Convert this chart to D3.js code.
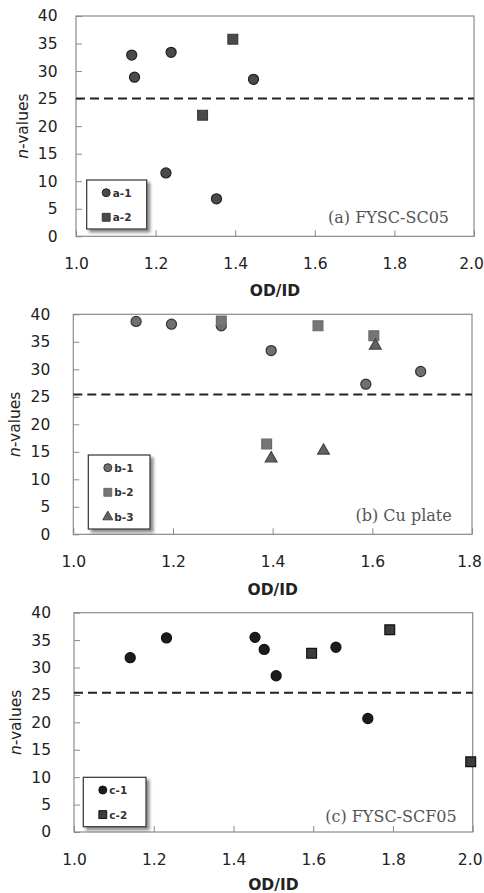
<!DOCTYPE html>
<html>
<head>
<meta charset="utf-8">
<script src="https://cdn.jsdelivr.net/npm/d3@7"></script>
<style>
  html, body { margin: 0; padding: 0; background: #fff; }
  svg { display: block; }
</style>
</head>
<body>
<svg id="chart" width="484" height="893"></svg>
<script>
// ---- data: OD/ID ratio vs n-values ----
const xTicksA = [1.0, 1.2, 1.4, 1.6, 1.8, 2.0];
const xTicksB = [1.0, 1.2, 1.4, 1.6, 1.8];
const yTicks = [0, 5, 10, 15, 20, 25, 30, 35, 40];

// (a) FYSC-SC05
const odA1 = [1.140, 1.147, 1.239, 1.446, 1.226, 1.353];
const nA1  = [32.9, 28.9, 33.4, 28.5, 11.5, 6.8];
const odA2 = [1.394, 1.318];
const nA2  = [35.8, 22.0];
const limitA = 25.0;

// (b) Cu plate
const odB1 = [1.126, 1.197, 1.297, 1.397, 1.587, 1.697];
const nB1  = [38.7, 38.2, 37.9, 33.4, 27.3, 29.6];
const odB2 = [1.297, 1.491, 1.603, 1.388];
const nB2  = [38.8, 37.9, 36.1, 16.4];
const odB3 = [1.606, 1.397, 1.502];
const nB3  = [34.3, 13.8, 15.2];
const limitB = 25.4;

// (c) FYSC-SCF05
const odC1 = [1.141, 1.232, 1.454, 1.477, 1.507, 1.657, 1.737];
const nC1  = [31.8, 35.4, 35.5, 33.3, 28.5, 33.7, 20.7];
const odC2 = [1.596, 1.792, 1.995];
const nC2  = [32.6, 36.9, 12.8];
const limitC = 25.4;

// ---- layout of the three stacked panels ----
const panels = [
  {
    box: {left: 76, right: 474, top: 16, bottom: 236.3},
    xDomain: [1.0, 2.0], xTicks: xTicksA, yPad: 18.5,
    ylabX: 23, xlabY: 296,
    limit: limitA,
    note: "(a) FYSC-SC05", noteX: 449, noteY: 222.5,
    legendBox: {x: 86.7, y: 180, w: 60, h: 49},
    series: [
      {name: "a-1", x: odA1, y: nA1, shape: "circle", fill: "#4a4a4a", stroke: "#222"},
      {name: "a-2", x: odA2, y: nA2, shape: "square", fill: "#4a4a4a", stroke: "#3a3a3a"}
    ]
  },
  {
    box: {left: 73.3, right: 472, top: 314.3, bottom: 534.3},
    xDomain: [1.0, 1.8], xTicks: xTicksB, yPad: 23,
    ylabX: 15, xlabY: 594.5,
    limit: limitB,
    note: "(b) Cu plate", noteX: 451.7, noteY: 520.5,
    legendBox: {x: 88.3, y: 455, w: 61.7, h: 74},
    series: [
      {name: "b-1", x: odB1, y: nB1, shape: "circle", fill: "#707070", stroke: "#333"},
      {name: "b-2", x: odB2, y: nB2, shape: "square", fill: "#767676", stroke: "#6a6a6a"},
      {name: "b-3", x: odB3, y: nB3, shape: "triangle", fill: "#626262", stroke: "#444"}
    ]
  },
  {
    box: {left: 74, right: 472.7, top: 612.7, bottom: 832},
    xDomain: [1.0, 2.0], xTicks: xTicksA, yPad: 23,
    ylabX: 16, xlabY: 890,
    limit: limitC,
    note: "(c) FYSC-SCF05", noteX: 456.7, noteY: 822,
    legendBox: {x: 83.3, y: 777.3, w: 62.7, h: 49.4},
    series: [
      {name: "c-1", x: odC1, y: nC1, shape: "circle", fill: "#1c1c1c", stroke: "#111"},
      {name: "c-2", x: odC2, y: nC2, shape: "square", fill: "#3c3c3c", stroke: "#111"}
    ]
  }
];

const svg = d3.select("#chart");
const sansFont = "'DejaVu Sans', 'Noto Sans', sans-serif";

// soft shadow used behind the legend boxes
const defs = svg.append("defs");
const shadow = defs.append("filter").attr("id", "legendShadow")
  .attr("x", "-20%").attr("y", "-20%").attr("width", "150%").attr("height", "150%");
shadow.append("feDropShadow")
  .attr("dx", 3).attr("dy", 3).attr("stdDeviation", 1.6)
  .attr("flood-color", "#000").attr("flood-opacity", 0.45);

function symbolPath(shape, big) {
  const sizes = big
    ? {circle: 80, square: 96, triangle: 60}
    : {circle: 50, square: 62, triangle: 44};
  const type = shape === "circle" ? d3.symbolCircle
    : shape === "square" ? d3.symbolSquare : d3.symbolTriangle;
  return d3.symbol().type(type).size(sizes[shape])();
}

panels.forEach(p => {
  const b = p.box;
  const x = d3.scaleLinear().domain(p.xDomain).range([b.left, b.right]);
  const y = d3.scaleLinear().domain([0, 40]).range([b.bottom, b.top]);
  const g = svg.append("g");

  // plot frame
  g.append("rect")
    .attr("x", b.left).attr("y", b.top)
    .attr("width", b.right - b.left).attr("height", b.bottom - b.top)
    .attr("fill", "none").attr("stroke", "#8a8a8a").attr("stroke-width", 1.2);

  // x axis with inward ticks
  const xAxis = d3.axisBottom(x).tickValues(p.xTicks)
    .tickFormat(d3.format(".1f")).tickSize(-6).tickSizeOuter(0).tickPadding(22);
  const gx = g.append("g").attr("transform", `translate(0,${b.bottom})`).call(xAxis);
  gx.select(".domain").remove();
  gx.selectAll(".tick line").attr("stroke", "#8a8a8a");
  gx.selectAll(".tick text")
    .attr("font-family", sansFont).attr("font-size", 15.5).attr("fill", "#222");
  // keep the last label inside the page edge
  gx.selectAll(".tick text").filter(d => d === p.xDomain[1]).attr("dx", -3);

  // y axis with inward ticks
  const yAxis = d3.axisLeft(y).tickValues(yTicks)
    .tickSize(-6).tickSizeOuter(0).tickPadding(p.yPad);
  const gy = g.append("g").attr("transform", `translate(${b.left},0)`).call(yAxis);
  gy.select(".domain").remove();
  gy.selectAll(".tick line").attr("stroke", "#8a8a8a");
  gy.selectAll(".tick text")
    .attr("font-family", sansFont).attr("font-size", 15.5).attr("fill", "#222");

  // axis titles
  g.append("text")
    .attr("x", (b.left + b.right) / 2).attr("y", p.xlabY)
    .attr("text-anchor", "middle")
    .attr("font-family", sansFont).attr("font-weight", "bold")
    .attr("font-size", 15.5).attr("fill", "#222")
    .text("OD/ID");

  const yl = g.append("text")
    .attr("transform", `translate(${p.ylabX},${(b.top + b.bottom) / 2}) rotate(-90)`)
    .attr("text-anchor", "middle").attr("dominant-baseline", "central")
    .attr("font-family", sansFont).attr("font-size", 15.5).attr("fill", "#222");
  yl.append("tspan").attr("font-style", "italic").text("n");
  yl.append("tspan").text("-values");

  // threshold line
  g.append("line")
    .attr("x1", b.left).attr("x2", b.right)
    .attr("y1", y(p.limit)).attr("y2", y(p.limit))
    .attr("stroke", "#222").attr("stroke-width", 2)
    .attr("stroke-dasharray", "9,5");

  // data points
  p.series.forEach(s => {
    const pts = s.x.map((v, i) => ({od: v, n: s.y[i]}));
    g.append("g").selectAll("path").data(pts).join("path")
      .attr("d", symbolPath(s.shape, true))
      .attr("transform", d => `translate(${x(d.od)},${y(d.n)})`)
      .attr("fill", s.fill).attr("stroke", s.stroke).attr("stroke-width", 1.2);
  });

  // panel caption
  g.append("text")
    .attr("x", p.noteX).attr("y", p.noteY)
    .attr("text-anchor", "end")
    .attr("font-family", "'DejaVu Serif', 'Liberation Serif', serif")
    .attr("font-size", 16).attr("fill", "#555")
    .text(p.note);

  // legend
  const lb = p.legendBox;
  const lg = g.append("g");
  lg.append("rect")
    .attr("x", lb.x).attr("y", lb.y).attr("width", lb.w).attr("height", lb.h)
    .attr("fill", "#fff").attr("stroke", "#333").attr("stroke-width", 1.2)
    .attr("filter", "url(#legendShadow)");
  p.series.forEach((s, i) => {
    const cy = lb.y + 12.7 + i * 24.6;
    lg.append("path")
      .attr("d", symbolPath(s.shape, false))
      .attr("transform", `translate(${lb.x + 19.5},${cy})`)
      .attr("fill", s.fill).attr("stroke", s.stroke).attr("stroke-width", 1);
    lg.append("text")
      .attr("x", lb.x + 26).attr("y", cy)
      .attr("dominant-baseline", "central")
      .attr("font-family", sansFont).attr("font-weight", "bold")
      .attr("font-size", 10.5).attr("fill", "#333")
      .text(s.name);
  });
});
</script>
</body>
</html>
